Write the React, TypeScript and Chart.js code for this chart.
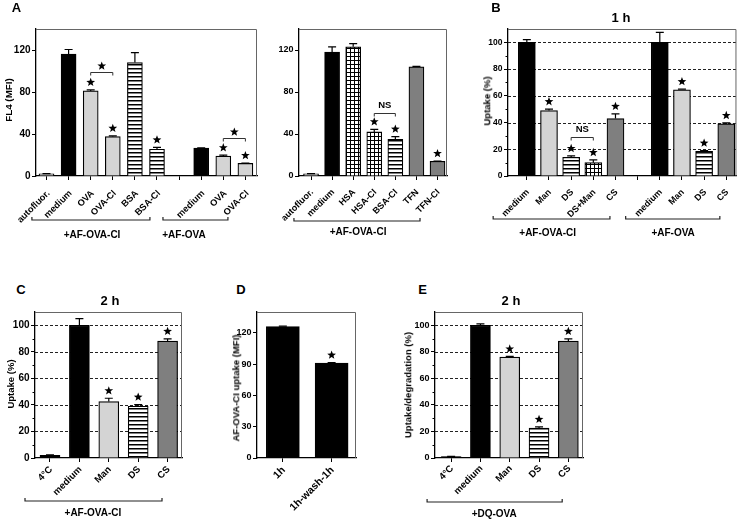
import React, { useEffect, useRef } from 'react';
import { Chart, registerables } from 'chart.js';

Chart.register(...registerables);

const FONT = "'Liberation Sans', Arial, sans-serif";
Chart.defaults.font.family = FONT;
Chart.defaults.color = '#000';

// ---------- Panel A (left) ----------
const aLeftLabels = ['autofluor.', 'medium', 'OVA', 'OVA-CI', 'BSA', 'BSA-CI', '', 'medium', 'OVA', 'OVA-CI'];
const aLeftValues = [2, 116, 81, 37.5, 108, 25.5, null, 26.5, 19, 12];
const aLeftErrors = [0.3, 4.5, 1, 0.8, 9.5, 1.8, 0, 0.4, 0.8, 0.4];
const aLeftStars = [false, false, true, true, false, true, false, false, true, true];
const aTicks = [0, 40, 80, 120];

// ---------- Panel A (right) ----------
const aRightLabels = ['autofluor.', 'medium', 'HSA', 'HSA-CI', 'BSA-CI', 'TFN', 'TFN-CI'];
const aRightValues = [2, 118, 123, 42, 35, 104, 14];
const aRightErrors = [0.3, 5, 3, 2.5, 2.5, 0.4, 0.3];
const aRightStars = [false, false, false, true, true, false, true];

// ---------- Panel B ----------
const bLabels = ['medium', 'Man', 'DS', 'DS+Man', 'CS', '', 'medium', 'Man', 'DS', 'CS'];
const bValues = [100, 49, 14, 10, 43, null, 100, 64.5, 18.5, 39];
const bErrors = [2, 1, 1, 2, 3.5, 0, 7.5, 0.5, 0.5, 0.7];
const bStars = [false, true, true, true, true, false, false, true, true, true];
const pctTicks = [0, 20, 40, 60, 80, 100];
const pctDashed = [20, 40, 60, 80, 100];
const pctMinor = [10, 30, 50, 70, 90];

// ---------- Panel C ----------
const cLabels = ['4°C', 'medium', 'Man', 'DS', 'CS'];
const cValues = [2, 100, 42.5, 39, 88];
const cErrors = [0.3, 5, 2.5, 1.2, 1.8];
const cStars = [false, false, true, true, true];

// ---------- Panel D ----------
const dLabels = ['1h', '1h-wash-1h'];
const dValues = [126, 91];
const dErrors = [0.5, 0.5];
const dStars = [false, true];
const dTicks = [0, 30, 60, 90, 120];

// ---------- Panel E ----------
const eLabels = ['4°C', 'medium', 'Man', 'DS', 'CS'];
const eValues = [1, 100, 76, 22.5, 88];
const eErrors = [0.2, 1, 0.5, 1, 1.8];
const eStars = [false, false, true, true, true];

type Sig = { from: number; to: number; at: number; mark: string };
type Group = { from: number; to: number; mid: number; label: string };
type Spec = {
  key: string;
  box: { x: number; y: number; w: number; h: number };
  area: { l: number; t: number; r: number; b: number };
  labels: string[];
  values: (number | null)[];
  errors: number[];
  stars: boolean[];
  fills: string[];
  xMin: number;
  xMax: number;
  yMax: number;
  yTicks: number[];
  dashed: number[];
  minor: number[];
  barWidth: number;
  tickFont: number;
  xFont: number;
  xPad: number;
  xShift: number;
  sig: Sig[];
  groups: Group[];
  bracketDy: number;
  labelDy: number;
};

const specs: Spec[] = [
  {
    key: 'aLeft',
    box: { x: 0, y: 0, w: 275, h: 245 },
    area: { l: 36, t: 29, r: 257, b: 176 },
    labels: aLeftLabels, values: aLeftValues, errors: aLeftErrors, stars: aLeftStars,
    fills: ['light', 'black', 'light', 'light', 'stripe', 'stripe', 'none', 'black', 'light', 'light'],
    xMin: -0.475, xMax: 9.525, yMax: 140, yTicks: aTicks, dashed: [], minor: [],
    barWidth: 15, tickFont: 10, xFont: 9.2, xPad: 8, xShift: 2,
    sig: [{ from: 2, to: 3, at: 99, mark: 'star' }, { from: 8, to: 9, at: 36, mark: 'star' }],
    groups: [
      { from: -0.66, to: 4.68, mid: 2.06, label: '+AF-OVA-CI' },
      { from: 5.27, to: 8.21, mid: 6.22, label: '+AF-OVA' },
    ],
    bracketDy: 44, labelDy: 59,
  },
  {
    key: 'aRight',
    box: { x: 262, y: 0, w: 200, h: 245 },
    area: { l: 299, t: 29, r: 447, b: 176 },
    labels: aRightLabels, values: aRightValues, errors: aRightErrors, stars: aRightStars,
    fills: ['light', 'black', 'grid', 'grid', 'stripe', 'dark', 'dark'],
    xMin: -0.57, xMax: 6.45, yMax: 140, yTicks: aTicks, dashed: [], minor: [],
    barWidth: 15, tickFont: 9, xFont: 9, xPad: 7, xShift: 1,
    sig: [{ from: 3, to: 4, at: 60, mark: 'NS' }],
    groups: [{ from: -0.81, to: 5.17, mid: 2.23, label: '+AF-OVA-CI' }],
    bracketDy: 45, labelDy: 56,
  },
  {
    key: 'b',
    box: { x: 470, y: 0, w: 271, h: 245 },
    area: { l: 508, t: 29, r: 739, b: 176 },
    labels: bLabels, values: bValues, errors: bErrors, stars: bStars,
    fills: ['black', 'light', 'stripe', 'grid', 'dark', 'none', 'black', 'light', 'stripe', 'dark'],
    xMin: -0.85, xMax: 9.46, yMax: 110, yTicks: pctTicks, dashed: pctDashed, minor: pctMinor,
    barWidth: 17, tickFont: 8.5, xFont: 9, xPad: 7, xShift: 1,
    sig: [{ from: 2, to: 3, at: 29, mark: 'NS' }],
    groups: [
      { from: -1.52, to: 3.75, mid: 0.94, label: '+AF-OVA-CI' },
      { from: 4.46, to: 8.71, mid: 6.6, label: '+AF-OVA' },
    ],
    bracketDy: 43, labelDy: 57,
  },
  {
    key: 'c',
    box: { x: 0, y: 300, w: 200, h: 219 },
    area: { l: 35, t: 312, r: 182, b: 458 },
    labels: cLabels, values: cValues, errors: cErrors, stars: cStars,
    fills: ['black', 'black', 'light', 'stripe', 'dark'],
    xMin: -0.51, xMax: 4.49, yMax: 110, yTicks: pctTicks, dashed: pctDashed, minor: pctMinor,
    barWidth: 20, tickFont: 10, xFont: 9.5, xPad: 2, xShift: 1,
    sig: [],
    groups: [{ from: -0.85, to: 3.81, mid: 1.46, label: '+AF-OVA-CI' }],
    bracketDy: 43, labelDy: 55,
  },
  {
    key: 'd',
    box: { x: 215, y: 300, w: 160, h: 219 },
    area: { l: 257, t: 312, r: 356, b: 458 },
    labels: dLabels, values: dValues, errors: dErrors, stars: dStars,
    fills: ['black', 'black'],
    xMin: -0.53, xMax: 1.5, yMax: 140, yTicks: dTicks, dashed: [], minor: [],
    barWidth: 33, tickFont: 9, xFont: 10.5, xPad: 2, xShift: 1,
    sig: [],
    groups: [],
    bracketDy: 0, labelDy: 0,
  },
  {
    key: 'e',
    box: { x: 400, y: 300, w: 200, h: 219 },
    area: { l: 435, t: 312, r: 583, b: 458 },
    labels: eLabels, values: eValues, errors: eErrors, stars: eStars,
    fills: ['black', 'black', 'light', 'stripe', 'dark'],
    xMin: -0.55, xMax: 4.5, yMax: 110, yTicks: pctTicks, dashed: pctDashed, minor: pctMinor,
    barWidth: 20, tickFont: 9, xFont: 9.5, xPad: 1, xShift: 1,
    sig: [],
    groups: [{ from: -0.82, to: 3.79, mid: 1.47, label: '+DQ-OVA' }],
    bracketDy: 44, labelDy: 56,
  },
];

function makePattern(kind: string): CanvasPattern | string {
  const t = document.createElement('canvas');
  t.width = 4;
  t.height = 4;
  const c = t.getContext('2d');
  if (!c) return '#aaa';
  c.fillStyle = '#fff';
  c.fillRect(0, 0, 4, 4);
  c.fillStyle = '#000';
  if (kind === 'stripe') {
    c.fillRect(0, 0, 4, 1.5);
  } else {
    c.fillRect(0, 0, 4, 1);
    c.fillRect(0, 0, 1, 4);
  }
  return c.createPattern(t, 'repeat') || '#aaa';
}

function fillFor(kind: string): any {
  if (kind === 'black') return '#000';
  if (kind === 'light') return '#d4d4d4';
  if (kind === 'dark') return '#7f7f7f';
  if (kind === 'stripe' || kind === 'grid') return makePattern(kind);
  return 'rgba(0,0,0,0)';
}

function drawStar(ctx: CanvasRenderingContext2D, cx: number, cy: number, R: number) {
  const r = R * 0.42;
  ctx.beginPath();
  for (let k = 0; k < 10; k++) {
    const ang = -Math.PI / 2 + (k * Math.PI) / 5;
    const rad = k % 2 === 0 ? R : r;
    const px = cx + rad * Math.cos(ang);
    const py = cy + rad * Math.sin(ang);
    if (k === 0) ctx.moveTo(px, py);
    else ctx.lineTo(px, py);
  }
  ctx.closePath();
  ctx.fillStyle = '#000';
  ctx.fill();
}

function Panel({ spec }: { spec: Spec }) {
  const ref = useRef<HTMLCanvasElement>(null);
  useEffect(() => {
    const canvas = ref.current;
    if (!canvas) return;
    const points: { x: number; y: number }[] = [];
    const colors: any[] = [];
    spec.values.forEach((v, i) => {
      if (v == null) return;
      points.push({ x: i, y: v });
      colors.push(fillFor(spec.fills[i]));
    });

    const overlay = {
      id: 'overlay_' + spec.key,
      beforeDatasetsDraw(chart: any) {
        const { ctx, chartArea: a, scales } = chart;
        const y = scales.y;
        ctx.save();
        ctx.setLineDash([3, 2]);
        ctx.strokeStyle = '#222';
        ctx.lineWidth = 1;
        spec.dashed.forEach((v) => {
          const py = Math.round(y.getPixelForValue(v)) + 0.5;
          ctx.beginPath();
          ctx.moveTo(a.left, py);
          ctx.lineTo(a.right, py);
          ctx.stroke();
        });
        ctx.restore();
      },
      afterDatasetsDraw(chart: any) {
        const { ctx, scales } = chart;
        const x = scales.x;
        const y = scales.y;
        ctx.save();
        ctx.strokeStyle = '#000';
        ctx.lineWidth = 1.2;
        spec.values.forEach((v, i) => {
          if (v == null) return;
          const px = x.getPixelForValue(i);
          const top = v + spec.errors[i];
          const y0 = y.getPixelForValue(v);
          const y1 = y.getPixelForValue(top);
          ctx.beginPath();
          ctx.moveTo(px, y0);
          ctx.lineTo(px, y1);
          ctx.moveTo(px - 4, y1);
          ctx.lineTo(px + 4, y1);
          ctx.stroke();
          if (spec.stars[i]) drawStar(ctx, px, y1 - 7.5, 4.6);
        });
        spec.sig.forEach((s) => {
          const x1 = x.getPixelForValue(s.from);
          const x2 = x.getPixelForValue(s.to);
          const py = Math.round(y.getPixelForValue(s.at)) + 0.5;
          ctx.strokeStyle = '#333';
          ctx.lineWidth = 1;
          ctx.beginPath();
          ctx.moveTo(x1, py + 3);
          ctx.lineTo(x1, py);
          ctx.lineTo(x2, py);
          ctx.lineTo(x2, py + 3);
          ctx.stroke();
          if (s.mark === 'star') {
            drawStar(ctx, (x1 + x2) / 2, py - 6.5, 4.6);
          } else {
            ctx.fillStyle = '#000';
            ctx.font = `bold 9.5px ${FONT}`;
            ctx.textAlign = 'center';
            ctx.textBaseline = 'middle';
            ctx.fillText(s.mark, (x1 + x2) / 2, py - 8);
          }
        });
        ctx.restore();
      },
      afterDraw(chart: any) {
        const { ctx, chartArea: a, scales } = chart;
        const x = scales.x;
        const y = scales.y;
        ctx.save();
        // top/right frame
        ctx.strokeStyle = '#666';
        ctx.lineWidth = 1;
        ctx.beginPath();
        ctx.moveTo(a.left, a.top + 0.5);
        ctx.lineTo(a.right - 0.5, a.top + 0.5);
        ctx.lineTo(a.right - 0.5, a.bottom);
        ctx.stroke();
        // minor ticks
        ctx.strokeStyle = '#000';
        spec.minor.forEach((v) => {
          const py = Math.round(y.getPixelForValue(v)) + 0.5;
          ctx.beginPath();
          ctx.moveTo(a.left - 2.5, py);
          ctx.lineTo(a.left, py);
          ctx.stroke();
        });
        // group brackets
        ctx.strokeStyle = '#222';
        ctx.lineWidth = 1.2;
        spec.groups.forEach((g) => {
          const x1 = x.getPixelForValue(g.from);
          const x2 = x.getPixelForValue(g.to);
          const py = a.bottom + spec.bracketDy;
          ctx.beginPath();
          ctx.moveTo(x1, py - 3);
          ctx.lineTo(x1, py);
          ctx.lineTo(x2, py);
          ctx.lineTo(x2, py - 3);
          ctx.stroke();
          ctx.fillStyle = '#000';
          ctx.font = `bold 10px ${FONT}`;
          ctx.textAlign = 'center';
          ctx.textBaseline = 'middle';
          ctx.fillText(g.label, x.getPixelForValue(g.mid), a.bottom + spec.labelDy);
        });
        ctx.restore();
      },
    };

    const chart = new Chart(canvas, {
      type: 'bar',
      data: {
        datasets: [
          {
            data: points as any,
            backgroundColor: colors,
            borderColor: '#000',
            borderWidth: 1.2,
            barThickness: spec.barWidth,
          },
        ],
      },
      options: {
        responsive: false,
        animation: false,
        devicePixelRatio: 1,
        events: [],
        layout: {
          padding: {
            left: 0,
            top: spec.area.t - spec.box.y,
            right: spec.box.x + spec.box.w - spec.area.r,
            bottom: 0,
          },
        },
        plugins: { legend: { display: false }, tooltip: { enabled: false }, title: { display: false } },
        scales: {
          x: {
            type: 'linear',
            min: spec.xMin,
            max: spec.xMax,
            offset: false,
            afterBuildTicks: (s: any) => {
              s.ticks = spec.labels.map((_, i) => ({ value: i }));
            },
            afterFit: (s: any) => {
              s.height = spec.box.y + spec.box.h - spec.area.b;
            },
            ticks: {
              autoSkip: false,
              minRotation: 45,
              maxRotation: 45,
              padding: spec.xPad,
              labelOffset: spec.xShift,
              color: '#000',
              font: { size: spec.xFont, weight: 'bold', family: FONT },
              callback: (_v: any, i: number) => spec.labels[i] ?? '',
            },
            grid: { display: true, drawOnChartArea: false, drawTicks: true, tickLength: 4, offset: false, color: '#000' },
            border: { display: true, color: '#000', width: 1.3 },
          },
          y: {
            min: 0,
            max: spec.yMax,
            afterBuildTicks: (s: any) => {
              s.ticks = spec.yTicks.map((v) => ({ value: v }));
            },
            afterFit: (s: any) => {
              s.width = spec.area.l - spec.box.x;
            },
            ticks: { color: '#000', padding: 1.5, font: { size: spec.tickFont, weight: 'bold', family: FONT } },
            grid: { drawOnChartArea: false, drawTicks: true, tickLength: 4, color: '#000' },
            border: { display: true, color: '#000', width: 1.3 },
          },
        },
      } as any,
      plugins: [overlay as any],
    });
    return () => chart.destroy();
  }, [spec]);

  return (
    <canvas
      ref={ref}
      width={spec.box.w}
      height={spec.box.h}
      style={{ position: 'absolute', left: spec.box.x, top: spec.box.y, width: spec.box.w, height: spec.box.h }}
    />
  );
}

type Txt = { text: string; x: number; y: number; size: number; rotate?: boolean };
const texts: Txt[] = [
  { text: 'A', x: 16.5, y: 7, size: 13 },
  { text: 'B', x: 496, y: 7, size: 13 },
  { text: 'C', x: 21, y: 289, size: 13 },
  { text: 'D', x: 241, y: 289, size: 13 },
  { text: 'E', x: 422.5, y: 289, size: 13 },
  { text: '1 h', x: 621, y: 17, size: 13 },
  { text: '2 h', x: 110, y: 299.5, size: 13 },
  { text: '2 h', x: 511, y: 299.5, size: 13 },
  { text: 'FL4 (MFI)', x: 8.5, y: 100, size: 9.8, rotate: true },
  { text: 'Uptake (%)', x: 486.5, y: 101, size: 9.5, rotate: true },
  { text: 'Uptake (%)', x: 11, y: 384, size: 9.5, rotate: true },
  { text: 'AF-OVA-CI uptake (MFI)', x: 236, y: 388, size: 9.5, rotate: true },
  { text: 'Uptake/degradation (%)', x: 407.5, y: 385, size: 9.5, rotate: true },
];

export default function App() {
  return (
    <div
      style={{
        position: 'absolute',
        left: 0,
        top: 0,
        width: 741,
        height: 519,
        background: '#fff',
        overflow: 'hidden',
        fontFamily: FONT,
      }}
    >
      {specs.map((s) => (
        <Panel key={s.key} spec={s} />
      ))}
      {texts.map((t, i) => (
        <div
          key={i}
          style={{
            position: 'absolute',
            left: t.x,
            top: t.y,
            transform: `translate(-50%, -50%)${t.rotate ? ' rotate(-90deg)' : ''}`,
            fontSize: t.size,
            fontWeight: 'bold',
            lineHeight: 1,
            whiteSpace: 'nowrap',
            color: '#000',
          }}
        >
          {t.text}
        </div>
      ))}
    </div>
  );
}
